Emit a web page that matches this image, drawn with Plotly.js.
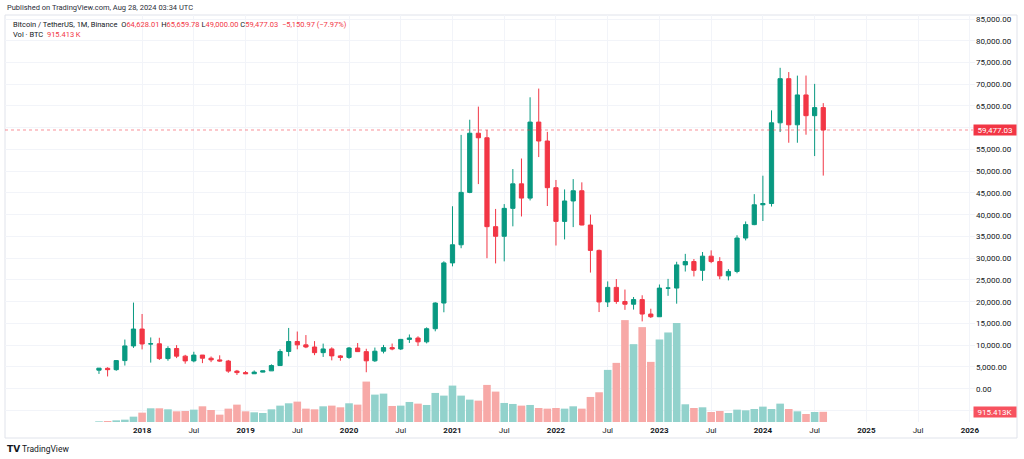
<!DOCTYPE html>
<html>
<head>
<meta charset="utf-8">
<script src="https://cdn.plot.ly/plotly-3.0.1.min.js"></script>
<style>
html,body{margin:0;padding:0;background:#fff;}
#chart{width:1024px;height:459px;}
</style>
</head>
<body>
<div id="chart"></div>
<script>
// ---- Data (Bitcoin / TetherUS, 1M, Binance) ----
const months = ["2017-08","2017-09","2017-10","2017-11","2017-12",
"2018-01","2018-02","2018-03","2018-04","2018-05","2018-06","2018-07","2018-08","2018-09","2018-10","2018-11","2018-12",
"2019-01","2019-02","2019-03","2019-04","2019-05","2019-06","2019-07","2019-08","2019-09","2019-10","2019-11","2019-12",
"2020-01","2020-02","2020-03","2020-04","2020-05","2020-06","2020-07","2020-08","2020-09","2020-10","2020-11","2020-12",
"2021-01","2021-02","2021-03","2021-04","2021-05","2021-06","2021-07","2021-08","2021-09","2021-10","2021-11","2021-12",
"2022-01","2022-02","2022-03","2022-04","2022-05","2022-06","2022-07","2022-08","2022-09","2022-10","2022-11","2022-12",
"2023-01","2023-02","2023-03","2023-04","2023-05","2023-06","2023-07","2023-08","2023-09","2023-10","2023-11","2023-12",
"2024-01","2024-02","2024-03","2024-04","2024-05","2024-06","2024-07","2024-08"];

const open = [4261.48,4689.89,4378.49,6463.00,9837.00,
13715.65,10285.10,10325.64,6922.00,9246.01,7485.01,6391.08,7735.67,7011.21,6626.57,6369.52,4041.27,
3701.23,3434.10,3814.26,4102.44,5321.94,8556.44,10854.10,10080.53,9588.74,8289.97,9140.86,7540.63,
7195.24,9351.71,8523.61,6412.14,8620.00,9448.27,9138.08,11335.46,11649.51,10776.59,13791.00,19695.87,
28923.63,33092.97,45134.11,58739.46,57697.25,37254.24,35045.00,41461.84,47100.89,43820.01,61299.81,56950.56,
46216.93,38466.90,43160.00,45510.35,37631.83,31801.05,19942.21,23296.36,20048.44,19422.61,20490.74,17165.53,
16541.77,23125.13,23141.57,28465.36,29233.20,27210.36,30471.99,29232.26,25940.77,26962.57,34639.78,37723.97,
42283.58,42580.00,61130.99,71280.00,60672.01,67540.01,62772.01,64628.01];

const high = [4745.42,4939.19,6498.01,11300.03,19798.68,
17176.24,11786.01,11710.00,9759.82,10020.00,7786.69,8491.77,7750.00,7410.00,7680.00,6615.15,4312.99,
4069.80,4198.00,4140.00,5600.00,9074.26,13970.00,13147.08,12330.70,10939.78,10370.00,9513.68,7750.00,
9578.00,10500.00,9188.00,9460.00,10067.00,10380.00,11444.00,12468.00,12050.85,14100.00,19863.16,29300.00,
41950.00,58352.80,61844.00,64854.00,59500.00,41330.00,42448.00,50500.00,52920.00,67000.00,69000.00,59053.55,
47990.00,45821.00,48189.84,47444.11,40023.77,31982.97,24668.00,25211.32,22799.00,21085.00,21480.65,18387.95,
23960.54,25250.00,29184.68,31000.00,29820.00,31431.94,31804.20,30244.00,27483.57,35280.00,38450.00,44729.58,
48969.48,64000.00,73777.00,72797.99,71979.00,71997.02,70079.99,65659.78];

const low = [3400.00,2817.00,4110.00,5325.01,9380.00,
9035.00,6000.01,6600.10,6430.00,7032.95,5750.00,6070.00,5880.00,6111.00,6205.00,3652.66,3156.26,
3349.92,3373.10,3759.01,4067.00,5316.20,7444.58,9055.00,9320.00,7710.00,7300.00,6515.00,6435.00,
6871.04,8445.00,3782.13,6150.11,8117.00,8833.00,8893.03,10518.50,9825.00,10416.69,13195.05,17572.33,
28130.00,32296.16,44950.53,47044.01,30000.00,28805.00,29278.00,37332.70,39600.00,43283.03,53256.64,42000.30,
32917.17,34322.28,37155.00,37578.20,26700.00,17622.00,18781.34,19520.00,18125.98,18190.00,15476.00,16256.30,
16499.01,21351.07,19549.09,26942.82,25811.46,24800.00,28861.90,25166.00,24901.00,26538.66,34097.39,37599.96,
38555.00,41884.28,59005.00,56552.82,56555.00,58402.00,53485.93,49000.00];

const close = [4724.89,4378.51,6463.00,9838.96,13716.36,
10285.10,10326.50,6923.91,9246.01,7485.01,6391.08,7730.93,7011.21,6626.57,6371.93,4041.32,3702.90,
3434.10,3813.69,4103.95,5320.81,8555.00,10854.10,10080.53,9587.47,8289.34,9140.85,7541.89,7195.23,
9352.89,8523.61,6410.44,8620.00,9448.27,9138.55,11335.46,11649.51,10776.59,13791.00,19695.87,28923.63,
33092.98,45135.66,58740.55,57694.27,37253.81,35045.00,41461.83,47100.89,43824.43,61299.80,56950.56,46216.93,
38466.90,43160.00,45510.34,37630.80,31801.04,19942.21,23293.32,20050.02,19422.61,20490.74,17164.40,16542.40,
23125.13,23141.57,28465.36,29233.21,27210.35,30472.00,29232.25,25940.78,26962.56,34639.77,37723.96,42283.58,
42580.00,61130.98,71280.01,60672.00,67540.01,62772.01,64628.00,59477.03];

// Volume in thousands of BTC
const volumeK = [60,90,150,210,480,
840,1230,1230,1140,960,990,1110,1410,1080,660,1200,1560,
960,870,810,1140,1470,1680,1830,1200,1140,1410,1470,1320,
1680,1560,3630,2460,2550,1440,1470,1800,1650,1530,2610,2370,
3270,2370,2010,1920,3330,2730,1710,1620,1470,1530,1260,1200,
1260,1200,1410,1200,2250,2670,4680,5310,9150,6990,8520,5400,
7410,8040,8880,1590,1260,1320,900,990,810,1110,1050,1170,
1380,1170,1650,1170,960,720,900,915.413];

// Time-axis tick labels
const tickDates = ["2018-01","2018-07","2019-01","2019-07","2020-01","2020-07","2021-01","2021-07",
"2022-01","2022-07","2023-01","2023-07","2024-01","2024-07","2025-01","2025-07","2026-01"];
const tickLabels = ["2018","Jul","2019","Jul","2020","Jul","2021","Jul","2022","Jul","2023","Jul","2024","Jul","2025","Jul","2026"];

// Price-axis ticks
const priceTicks = [];
for (let p = -5000; p <= 85000; p += 5000) priceTicks.push(p);

// ---- helpers ----
function monthIndex(s) {
  const [y0, m0] = months[0].split("-").map(Number);
  const [y, m] = s.split("-").map(Number);
  return (y - y0) * 12 + (m - m0);
}
const fmt2 = v => v.toLocaleString("en-US", {minimumFractionDigits: 2, maximumFractionDigits: 2});
const xs = months.map(monthIndex);

const UP = "#089981", DOWN = "#f23645";
const VUP = "#92d2cc", VDOWN = "#f7a9a7";
const volColors = close.map((c, i) => c >= open[i] ? VUP : VDOWN);

// plot area in pixels
const L = 5, R = 975, T = 15, B = 422;
const px2x = px => (px - L) / (R - L);
const py2y = py => (B - py) / (B - T);

const n = months.length - 1;
const lastO = open[n], lastH = high[n], lastL = low[n], lastC = close[n];
const chg = lastC - close[n - 1];
const pct = chg / close[n - 1] * 100;
const signed = v => (v < 0 ? "\u2212" : "+") + fmt2(Math.abs(v));

const RED = "#f23645";
const sp = t => '<span style="color:' + RED + '">' + t + '</span>';
const FONT = "Roboto, 'Liberation Sans', Arial, sans-serif";

const traces = [
  {
    type: "bar", x: xs, y: volumeK, xaxis: "x", yaxis: "y",
    marker: {color: volColors, line: {width: 0}}, width: 0.88,
    hoverinfo: "skip", showlegend: false
  },
  {
    type: "candlestick", x: xs, open: open, high: high, low: low, close: close,
    xaxis: "x", yaxis: "y2",
    increasing: {line: {color: UP, width: 1}, fillcolor: UP},
    decreasing: {line: {color: DOWN, width: 1}, fillcolor: DOWN},
    whiskerwidth: 0, hoverinfo: "skip", showlegend: false
  }
];

const layout = {
  width: 1024, height: 459,
  margin: {l: L, r: 1024 - R, t: T, b: 459 - B, pad: 0},
  paper_bgcolor: "#ffffff", plot_bgcolor: "#ffffff",
  font: {family: FONT, size: 8, color: "#131722"},
  showlegend: false,
  xaxis: {
    type: "linear", range: [-10.9, 101.6],
    tickvals: tickDates.map(monthIndex),
    ticktext: tickLabels.map(t => t === "Jul" ? t : "<b>" + t + "</b>"),
    showgrid: true, gridcolor: "#f2f4f9", gridwidth: 1,
    zeroline: false, showline: false, ticks: "", ticklabelstandoff: 2,
    tickfont: {size: 8, color: "#131722"},
    rangeslider: {visible: false}, fixedrange: true
  },
  yaxis: {
    range: [0, 36550], visible: false, showgrid: false, zeroline: false, fixedrange: true
  },
  yaxis2: {
    overlaying: "y", side: "right", range: [-7656, 85920],
    tickvals: priceTicks,
    ticktext: priceTicks.map(p => p < 0 ? "" : fmt2(p)),
    showgrid: true, gridcolor: "#f2f4f9", gridwidth: 1,
    zeroline: false, showline: false, ticks: "",
    tickfont: {size: 8, color: "#131722"}, fixedrange: true
  },
  shapes: [
    {type: "rect", xref: "paper", yref: "paper", x0: px2x(5), x1: px2x(1017), y0: py2y(438), y1: py2y(15),
     line: {color: "#e0e3eb", width: 1}, fillcolor: "rgba(0,0,0,0)", layer: "below"},
    {type: "line", xref: "paper", yref: "y2", x0: 0, x1: px2x(973), y0: lastC, y1: lastC,
     line: {color: "rgba(242,54,69,0.55)", width: 1, dash: "dot"}}
  ],
  annotations: [
    {xref: "paper", yref: "paper", x: px2x(5), y: py2y(7.5), xanchor: "left", yanchor: "middle",
     showarrow: false, text: "Published on TradingView.com, Aug 28, 2024 03:34 UTC",
     font: {size: 7.5, color: "#2a2e39"}},
    {xref: "paper", yref: "paper", x: px2x(10.5), y: py2y(24.5), xanchor: "left", yanchor: "middle",
     showarrow: false,
     text: "Bitcoin / TetherUS, 1M, Binance&nbsp;&nbsp;O" + sp(fmt2(lastO)) + "&nbsp;H" + sp(fmt2(lastH)) +
           "&nbsp;L" + sp(fmt2(lastL)) + "&nbsp;C" + sp(fmt2(lastC)) + "&nbsp;&nbsp;" +
           sp(signed(chg) + " (" + signed(pct) + "%)"),
     font: {size: 7.5, color: "#131722"}},
    {xref: "paper", yref: "paper", x: px2x(10.5), y: py2y(34.5), xanchor: "left", yanchor: "middle",
     showarrow: false, text: "Vol \u00b7 BTC&nbsp;&nbsp;" + sp(volumeK[n].toFixed(3) + "\u2009K"),
     font: {size: 7.5, color: "#131722"}},
    {xref: "paper", yref: "y2", x: px2x(973), y: lastC, xanchor: "left", yanchor: "middle",
     showarrow: false, text: fmt2(lastC), bgcolor: RED, borderpad: 1, width: 40, height: 8,
     font: {size: 8, color: "#ffffff"}},
    {xref: "paper", yref: "y", x: px2x(973), y: volumeK[n], xanchor: "left", yanchor: "middle",
     showarrow: false, text: volumeK[n].toFixed(3) + "K", bgcolor: "#f7525f", borderpad: 1, width: 40, height: 8,
     font: {size: 8, color: "#ffffff"}},
    {xref: "paper", yref: "paper", x: px2x(5), y: py2y(449), xanchor: "left", yanchor: "middle",
     showarrow: false, text: "<b>TV</b>", font: {size: 9, color: "#131722", family: "'DejaVu Sans', sans-serif"}},
    {xref: "paper", yref: "paper", x: px2x(20), y: py2y(449), xanchor: "left", yanchor: "middle",
     showarrow: false, text: "TradingView", font: {size: 8.5, color: "#131722"}}
  ]
};

Plotly.newPlot("chart", traces, layout, {displayModeBar: false, staticPlot: true});
</script>
</body>
</html>
